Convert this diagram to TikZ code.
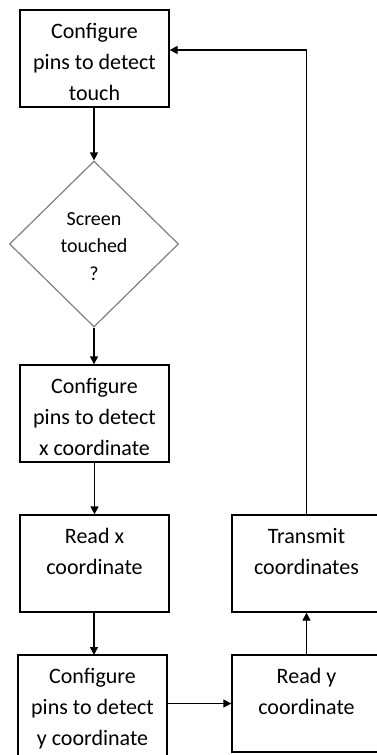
\documentclass[tikz,border=0pt]{standalone}
\usepackage{fontspec}
\setmainfont{Carlito}
\usetikzlibrary{shapes.geometric,arrows.meta}

\tikzset{
  stepbox/.style={draw=black, line width=1.3pt, rectangle, minimum width=149pt,
    minimum height=97pt, inner sep=0pt},
  decision/.style={draw=black!50, line width=1.2pt, diamond, aspect=1.02,
    minimum width=169pt, minimum height=166pt, inner sep=0pt},
  boxtext/.style={align=center, inner sep=0pt, anchor=north,
    font=\fontsize{22}{31}\selectfont},
  flow/.style={line width=1.3pt, -{Triangle[length=8pt,width=8pt]}}
}

\begin{document}
\begin{tikzpicture}[x=1pt, y=-1pt]
\useasboundingbox (0,0) rectangle (377,755);

% left column
\node[stepbox] (touch) at (94.5,58.5) {};
\node[boxtext] (ttouch) at ([yshift=-14pt]touch.north) {Configure\\pins to detect\\touch};

\node[decision] (scr) at (94,244) {};
\node[boxtext, font=\fontsize{20}{27.5}\selectfont] (tscr) at ([yshift=32pt]scr.center) {Screen\\touched\\?};

\node[stepbox] (cfgx) at (94.5,413.5) {};
\node[boxtext] (tcfgx) at ([yshift=-14pt]cfgx.north) {Configure\\pins to detect\\x coordinate};

\node[stepbox] (readx) at (94.5,563.5) {};
\node[boxtext] (treadx) at ([yshift=-14pt]readx.north) {Read x\\coordinate};

\node[stepbox, minimum height=102pt] (cfgy) at (92.5,706) {};
\node[boxtext] (tcfgy) at ([yshift=-14pt]cfgy.north) {Configure\\pins to detect\\y coordinate};

% right column
\node[stepbox] (ready) at (306.5,703.5) {};
\node[boxtext] (tready) at ([yshift=-14pt]ready.north) {Read y\\coordinate};

\node[stepbox] (send) at (306.5,563.5) {};
\node[boxtext] (tsend) at ([yshift=-14pt]send.north) {Transmit\\coordinates};

% connectors
\draw[flow] (touch.south -| scr.north) -- (scr.north);
\draw[flow] (scr.south) -- (scr.south |- cfgx.north);
\draw[flow] (cfgx.south) -- (readx.north);
\draw[flow] (readx.south -| 94,0) -- (94,655);
\draw[flow] (cfgy.east |- ready.west) -- (ready.west);
\draw[flow] (ready.north) -- (send.south);
\draw[flow] (send.north) |- ([yshift=8.5pt]touch.east);
\end{tikzpicture}
\end{document}
